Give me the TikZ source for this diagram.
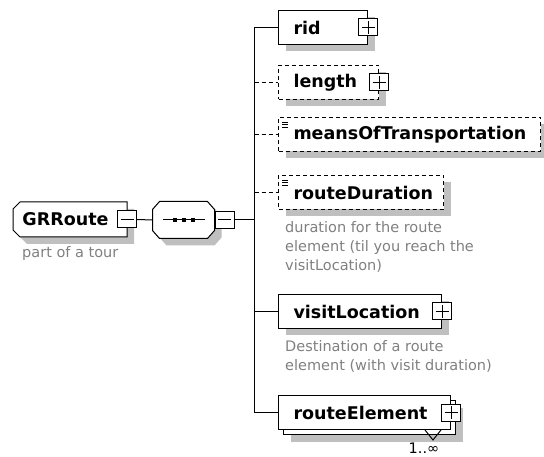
\documentclass[tikz,border=0pt]{standalone}
\usepackage{fontspec}
\newfontfamily\diagfont{DejaVu Sans}
\usetikzlibrary{shadows}
\colorlet{shadowcolor}{black!25}
\colorlet{notecolor}{black!50}
\newcommand\elemfont{\diagfont\bfseries\fontsize{17.5}{20}\selectfont}
\newcommand\notefont{\diagfont\fontsize{14.5}{19}\selectfont}
\pgfdeclarelayer{bg}
\pgfsetlayers{bg,main}

\tikzset{
  box/.style={draw, fill=white, line width=1pt, anchor=north west, minimum height=34pt,
    inner xsep=15pt, inner ysep=0pt, align=left, font=\elemfont},
  elem/.style={box, drop shadow={shadow xshift=7pt, shadow yshift=-7pt, fill=shadowcolor, opacity=1}},
  opt/.style={elem, dash pattern=on 4pt off 3pt},
  many/.style={box,
    drop shadow={shadow xshift=12pt, shadow yshift=-12pt, fill=shadowcolor, opacity=1},
    copy shadow={shadow xshift=5pt, shadow yshift=-5pt, draw=black, fill=white}},
  bare/.style={box, draw=none, fill=none},
  % outlines with cut corners, drawn on the bg layer
  rootpath/.style={insert path={([xshift=7pt]#1.north west) -- (#1.north east) -- (#1.south east)
      -- ([xshift=7pt]#1.south west) -- ([yshift=7pt]#1.south west) -- ([yshift=-7pt]#1.north west) -- cycle}},
  octpath/.style={insert path={([xshift=7pt]#1.north west) -- ([xshift=-7pt]#1.north east)
      -- ([yshift=-8pt]#1.north east) -- ([yshift=8pt]#1.south east) -- ([xshift=-7pt]#1.south east)
      -- ([xshift=7pt]#1.south west) -- ([yshift=8pt]#1.south west) -- ([yshift=-8pt]#1.north west) -- cycle}},
  btn/.style={draw, fill=white, line width=1pt, minimum width=19pt, minimum height=17pt, inner sep=0pt},
  plus/.style={btn, path picture={\draw[line width=1pt]
      ([xshift=3pt]path picture bounding box.west) -- ([xshift=-3pt]path picture bounding box.east)
      ([yshift=-2pt]path picture bounding box.north) -- ([yshift=2pt]path picture bounding box.south);}},
  minus/.style={btn, path picture={\draw[line width=1pt]
      ([xshift=3pt]path picture bounding box.west) -- ([xshift=-3pt]path picture bounding box.east);}},
  note/.style={anchor=north west, align=left, inner sep=0pt, text=notecolor, font=\notefont},
  link/.style={line width=1pt},
  optlink/.style={link, dash pattern=on 4pt off 3pt},
}

\begin{document}
\begin{tikzpicture}[x=1pt, y=-1pt]
  \useasboundingbox (0,0) rectangle (544,457);

  % root element and its sequence
  \node[bare, text width=95pt, inner xsep=9pt] (grroute) at (13,202) {GRRoute};
  \node[minus] (grroutebtn) at (grroute.east) {};
  \node[note] (grroutenote) at (22,246) {part of a tour};

  \node[bare, anchor=center, minimum width=61pt, minimum height=36pt, inner xsep=0pt] (seq) at (183.5,220) {};
  \node[minus, anchor=west] (seqbtn) at (seq.east) {};
  \draw[line width=1pt] ([xshift=-21pt]seq.center) -- ([xshift=21pt]seq.center);
  \foreach \d in {-9,0,9}
    \fill ([xshift=\d pt]seq.center) +(-2,-2) rectangle +(2,2);

  \begin{pgfonlayer}{bg}
    \fill[shadowcolor, transform canvas={shift={(7,7)}}] [rootpath=grroute] [octpath=seq];
    \filldraw[fill=white, line width=1pt] [rootpath=grroute] [octpath=seq];
  \end{pgfonlayer}

  % children
  \node[elem, text width=59pt] (rid) at (278,10) {rid};
  \node[plus] (ridbtn) at (rid.east) {};
  \node[opt, text width=70pt] (length) at (278,65) {length};
  \node[plus] (lengthbtn) at (length.east) {};
  \node[opt, text width=232pt] (means) at (278,117) {meansOfTransportation};
  \node[opt, text width=135pt] (duration) at (278,175) {routeDuration};
  \node[note] (durationnote) at (285,221) {duration for the route\\element (til you reach the\\visitLocation)};
  \node[elem, text width=133pt] (visit) at (278,294) {visitLocation};
  \node[plus] (visitbtn) at (visit.east) {};
  \node[note] (visitnote) at (285,340) {Destination of a route\\element (with visit duration)};
  \node[many, text width=142pt] (route) at (278,395) {routeElement};
  \node[plus] (routebtn) at (route.east) {};
  \draw[line width=1pt] ([xshift=-26pt]route.south east) -- ++(8,10) -- ++(8,-10);
  \node[font=\notefont, inner sep=0pt] (routecount) at (424,448) {1..∞};

  % simple-content marks
  \foreach \n in {means, duration}
    \foreach \k in {0,1,2}
      \draw[line width=0.8pt] ([xshift=4pt, yshift=-5pt-2.5*\k pt]\n.north west) -- +(6,0);

  % connectors
  \draw[link] (grroutebtn.east) -- (seq.west);
  \draw[link] (seqbtn.east) -- ++(20,0) coordinate (bus);
  \draw[link] (bus |- rid.west) -- (bus |- route.west);
  \foreach \n in {rid, visit, route}
    \draw[link] (bus |- \n.west) -- (\n.west);
  \foreach \n in {length, means, duration}
    \draw[optlink] (bus |- \n.west) -- (\n.west);
\end{tikzpicture}
\end{document}
